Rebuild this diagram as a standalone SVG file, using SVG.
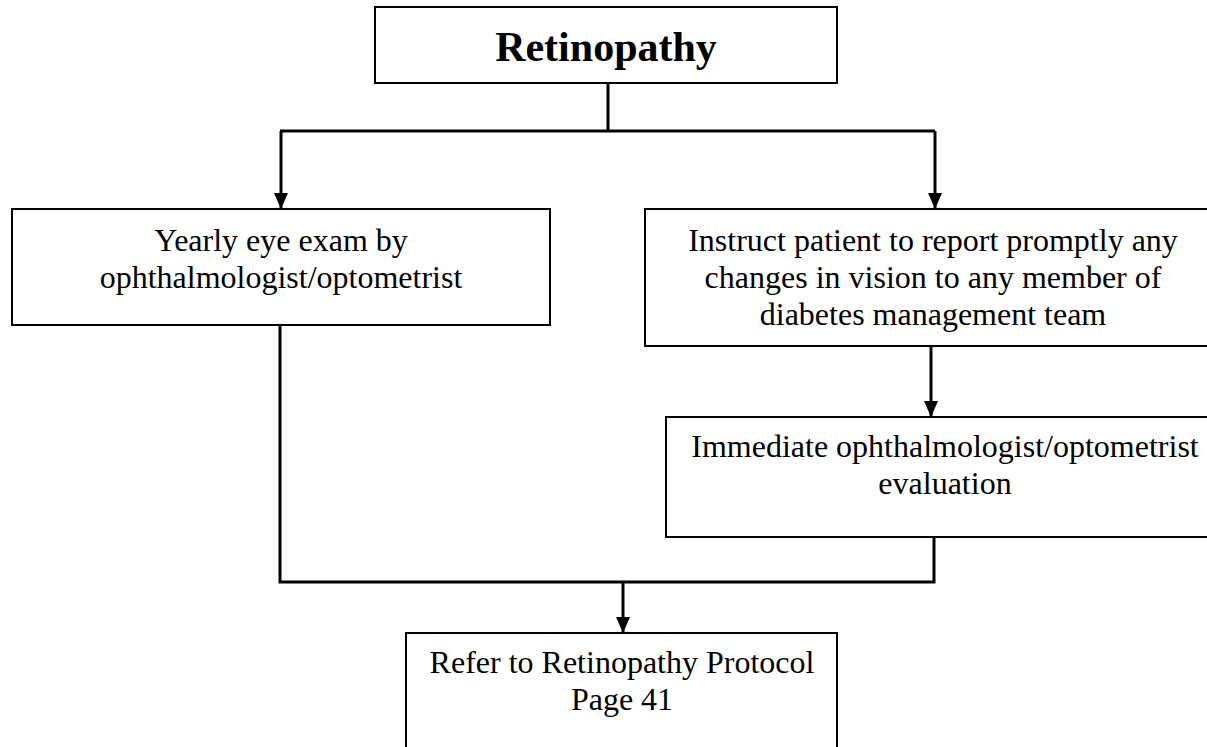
<svg xmlns="http://www.w3.org/2000/svg" width="1207" height="747" viewBox="0 0 1207 747">
<style>
.box{fill:#fff;stroke:#000;stroke-width:2}
.t{font-family:"Liberation Serif","Times New Roman",serif;font-size:32px;text-anchor:middle;fill:#000}
.title{font-family:"Liberation Serif","Times New Roman",serif;font-size:42px;font-weight:bold;text-anchor:middle;fill:#000}
.c{fill:none;stroke:#000;stroke-width:3}
</style>
<defs>
<marker id="ah" viewBox="0 0 16 14" refX="16" refY="7" markerWidth="16" markerHeight="14" markerUnits="userSpaceOnUse" orient="auto">
<path d="M0,0 L16,7 L0,14 Z" fill="#000"/>
</marker>
</defs>
<g id="connectors">
<path class="c" d="M608,83 V131"/>
<path class="c" d="M280,131 H935"/>
<path class="c" d="M281,131 V209" marker-end="url(#ah)"/>
<path class="c" d="M935,131 V209" marker-end="url(#ah)"/>
<path class="c" d="M931,346 V417" marker-end="url(#ah)"/>
<path class="c" d="M280,325 V582 H934 V537"/>
<path class="c" d="M623,582 V633" marker-end="url(#ah)"/>
</g>
<g id="n-title">
<rect class="box" x="375" y="7" width="462" height="76"/>
<text class="title" x="606" y="61">Retinopathy</text>
</g>
<g id="n-yearly">
<rect class="box" x="12" y="209" width="538" height="116"/>
<text class="t" x="281" y="251">Yearly eye exam by</text>
<text class="t" x="281" y="288">ophthalmologist/optometrist</text>
</g>
<g id="n-instruct">
<rect class="box" x="645" y="209" width="579" height="137"/>
<text class="t" x="933" y="251">Instruct patient to report promptly any</text>
<text class="t" x="933" y="288">changes in vision to any member of</text>
<text class="t" x="933" y="325">diabetes management team</text>
</g>
<g id="n-immediate">
<rect class="box" x="666" y="417" width="560" height="120"/>
<text class="t" x="945" y="457">Immediate ophthalmologist/optometrist</text>
<text class="t" x="945" y="494">evaluation</text>
</g>
<g id="n-refer">
<rect class="box" x="406" y="633" width="431" height="130"/>
<text class="t" x="622" y="673">Refer to Retinopathy Protocol</text>
<text class="t" x="622" y="710">Page 41</text>
</g>
</svg>
